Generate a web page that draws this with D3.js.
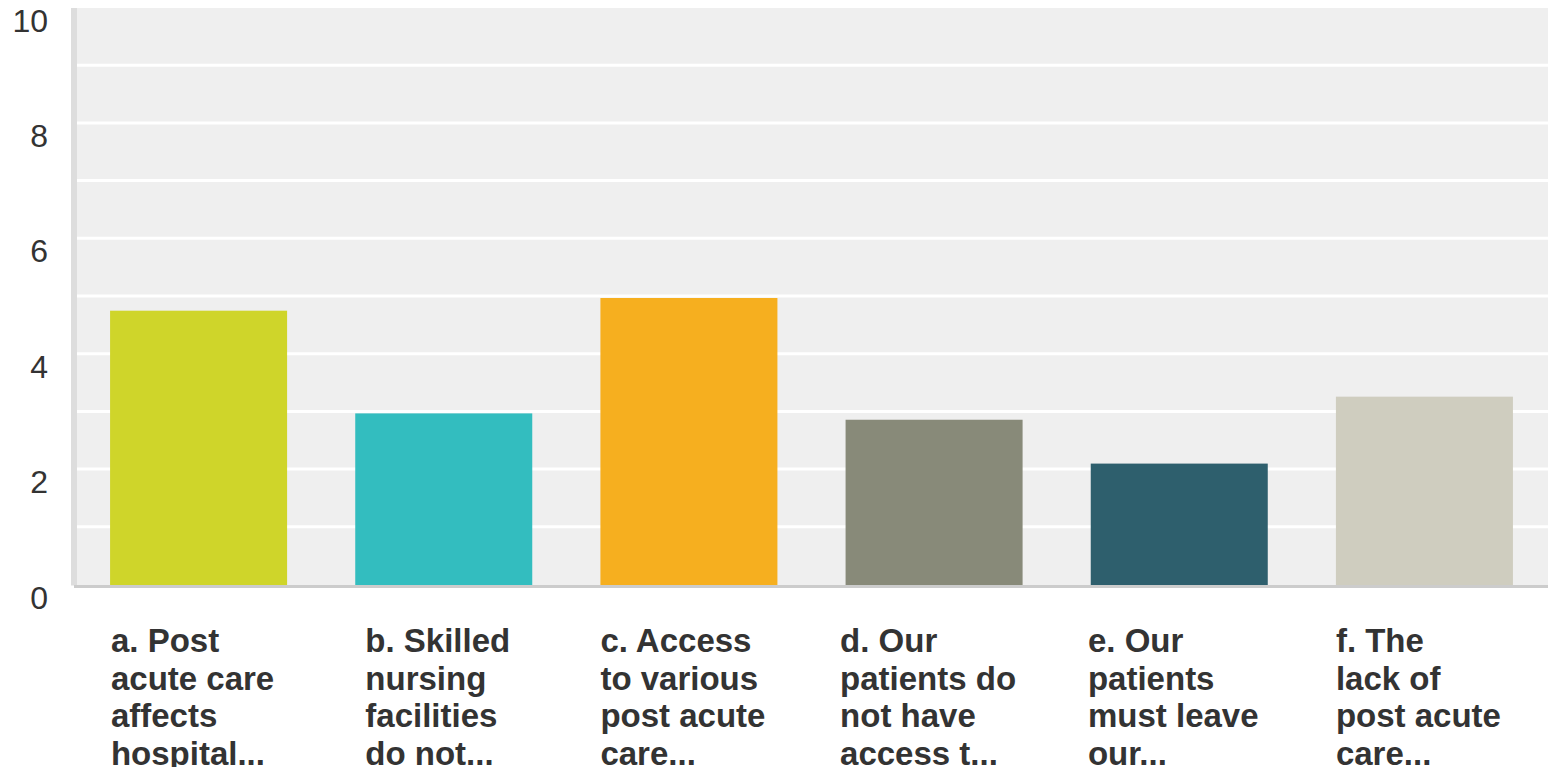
<!DOCTYPE html>
<html>
<head>
<meta charset="utf-8">
<script src="https://cdn.jsdelivr.net/npm/d3@7"></script>
<style>
  body { margin: 0; background: #fff; }
  svg { display: block; }
</style>
</head>
<body>
<div id="chart"></div>
<script>
let categories = ['a', 'b', 'c', 'd', 'e', 'f']
let labelLines = [
  ['a. Post', 'acute care', 'affects', 'hospital...'],
  ['b. Skilled', 'nursing', 'facilities', 'do not...'],
  ['c. Access', 'to various', 'post acute', 'care...'],
  ['d. Our', 'patients do', 'not have', 'access t...'],
  ['e. Our', 'patients', 'must leave', 'our...'],
  ['f. The', 'lack of', 'post acute', 'care...']
]
let values = [4.78, 3.0, 5.0, 2.89, 2.13, 3.29]
let barColors = ['#cfd52a', '#33bdbf', '#f6af1f', '#888a79', '#2e5f6d', '#cfcdbf']
let yTicks = [0, 2, 4, 6, 8, 10]
let gridValues = [1, 2, 3, 4, 5, 6, 7, 8, 9]

let width = 1552
let height = 767
let plotLeft = 77
let plotRight = 1548
let plotTop = 8
let plotBottom = 585.5

let svg = d3
  .select('#chart')
  .append('svg')
  .attr('width', width)
  .attr('height', height)

let xPositionScale = d3
  .scaleBand()
  .domain(categories)
  .range([plotLeft - 1, plotRight - 1])
  .paddingInner(0.278)
  .paddingOuter(0.139)

let yPositionScale = d3.scaleLinear().domain([0, 10]).range([plotBottom, plotTop + 0.5])

// plot background
svg
  .append('rect')
  .attr('x', plotLeft)
  .attr('y', plotTop)
  .attr('width', plotRight - plotLeft)
  .attr('height', plotBottom - plotTop)
  .attr('fill', '#efefef')

// left shaded edge
svg
  .append('rect')
  .attr('x', plotLeft - 6)
  .attr('y', plotTop)
  .attr('width', 6)
  .attr('height', plotBottom - plotTop)
  .attr('fill', '#dddddd')

// gridlines
svg
  .selectAll('.grid')
  .data(gridValues)
  .enter()
  .append('line')
  .attr('class', 'grid')
  .attr('x1', plotLeft)
  .attr('x2', plotRight)
  .attr('y1', d => yPositionScale(d) - 1)
  .attr('y2', d => yPositionScale(d) - 1)
  .attr('stroke', '#ffffff')
  .attr('stroke-width', 3)

// bars
svg
  .selectAll('.bar')
  .data(values)
  .enter()
  .append('rect')
  .attr('class', 'bar')
  .attr('x', (d, i) => xPositionScale(categories[i]))
  .attr('width', xPositionScale.bandwidth())
  .attr('y', d => yPositionScale(d) + 1)
  .attr('height', d => plotBottom - yPositionScale(d) - 1)
  .attr('fill', (d, i) => barColors[i])

// bottom axis line
svg
  .append('rect')
  .attr('x', plotLeft - 3)
  .attr('y', plotBottom - 0.5)
  .attr('width', plotRight - plotLeft + 3)
  .attr('height', 3)
  .attr('fill', '#cccccc')

// y tick labels
svg
  .selectAll('.y-label')
  .data(yTicks)
  .enter()
  .append('text')
  .attr('class', 'y-label')
  .attr('x', 48)
  .attr('y', d => yPositionScale(d) + 23)
  .attr('text-anchor', 'end')
  .attr('font-family', 'Liberation Sans, Arial, sans-serif')
  .attr('font-size', 32)
  .attr('fill', '#333333')
  .text(d => d)

// category labels
let labelGroups = svg
  .selectAll('.x-label')
  .data(categories)
  .enter()
  .append('text')
  .attr('class', 'x-label')
  .attr('font-family', 'Liberation Sans, Arial, sans-serif')
  .attr('font-weight', 'bold')
  .attr('font-size', 33)
  .attr('fill', '#333333')

labelGroups
  .selectAll('tspan')
  .data((d, i) => labelLines[i])
  .enter()
  .append('tspan')
  .attr('y', (d, i) => 652 + i * 37.5)
  .text(d => d)

labelGroups.each(function(d) {
  let tspans = d3.select(this).selectAll('tspan')
  let maxW = d3.max(tspans.nodes(), n => n.getComputedTextLength())
  let center = xPositionScale(d) + xPositionScale.bandwidth() / 2
  tspans.attr('x', center - maxW / 2 - 6)
})
</script>
</body>
</html>
